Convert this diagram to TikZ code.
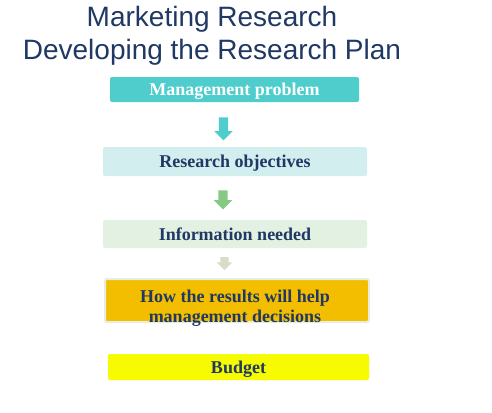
\documentclass[tikz,border=0pt]{standalone}
\usepackage{fontspec}
\setmainfont{Liberation Serif}
\newfontfamily\titlefont{Liberation Sans}
\usepackage{tikz}
\usetikzlibrary{shapes.arrows}
\definecolor{navy}{RGB}{31,56,100}
\definecolor{tealbox}{RGB}{79,205,205}
\definecolor{paleteal}{RGB}{210,238,238}
\definecolor{palegreen}{RGB}{227,241,227}
\definecolor{midgreen}{RGB}{133,201,133}
\definecolor{beige}{RGB}{217,220,200}
\definecolor{amber}{RGB}{243,189,0}
\definecolor{amberedge}{RGB}{230,239,223}
\definecolor{brightyellow}{RGB}{247,251,0}

\begin{document}
\begin{tikzpicture}[x=1pt, y=-1pt,
    box/.style={rectangle, rounded corners=2pt, inner sep=0pt, text=navy,
        font=\bfseries\fontsize{18}{20}\selectfont, text height=12pt, text depth=0pt},
    down/.style={single arrow, rotate=-90, inner xsep=0pt, draw=none}]
    \useasboundingbox (0,0) rectangle (492,412);
    	\node[font=\titlefont\fontsize{28}{33}\selectfont, text=navy, align=center, anchor=north, inner sep=0pt] (title) at (212,6) {Marketing Research\\Developing the Research Plan};
    	\node[box, fill=tealbox, text=white, minimum width=249, minimum height=25] (problem) at (234.5,89.5) {Management problem};
    	\node[down, fill=tealbox, inner ysep=4.5pt, minimum height=23, single arrow head extend=4.5pt] (arr1) at (223.5,126.5) {};
    	\node[box, fill=paleteal, minimum width=264, minimum height=29] (objectives) at (235,161.5) {Research objectives};
    	\node[down, fill=midgreen, inner ysep=4.5pt, minimum height=19, single arrow head extend=4.5pt] (arr2) at (223,197.5) {};
    	\node[box, fill=palegreen, minimum width=264, minimum height=28] (info) at (235,234) {Information needed};
    	\node[down, fill=beige, inner ysep=4pt, minimum height=13, single arrow head extend=3.5pt] (arr3) at (224.5,261.5) {};
    	\node[box, fill=amber, draw=amberedge, line width=2pt, minimum width=264, minimum height=43] (help) at (237,300.5) {};
    	\node[box, align=center, anchor=north, text height=, text depth=] (helptext) at (235,290) {How the results will help\\management decisions};
    	\node[box, fill=brightyellow, minimum width=261, minimum height=26] (budget) at (238.5,367) {Budget};
    \end{tikzpicture}
\end{document}
